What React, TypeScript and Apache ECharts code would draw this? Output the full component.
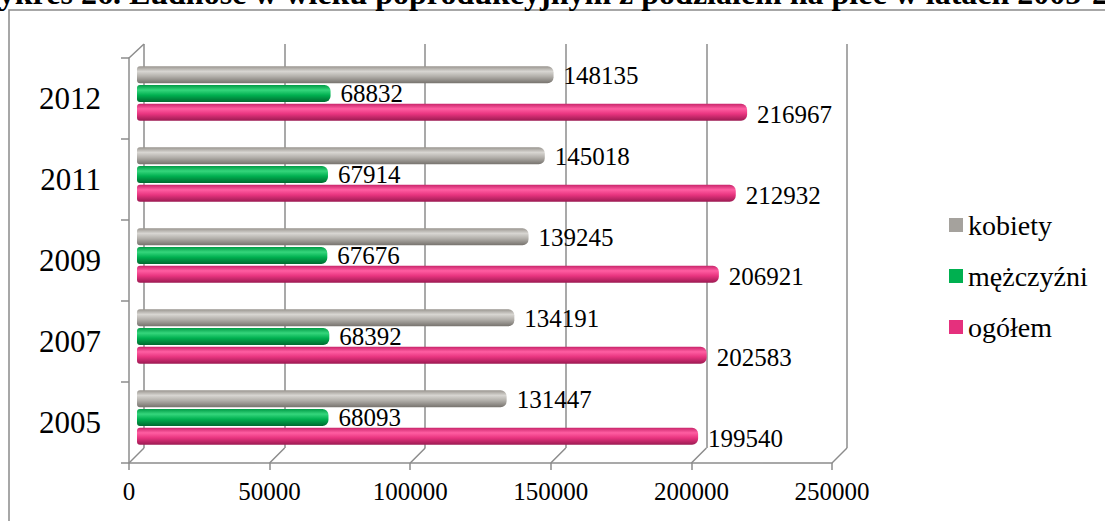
import React, { useEffect, useRef } from "react";
import * as echarts from "echarts";

const years = ["2005", "2007", "2009", "2011", "2012"];
const ogolem = [199540, 202583, 206921, 212932, 216967];
const mezczyzni = [68093, 68392, 67676, 67914, 68832];
const kobiety = [131447, 134191, 139245, 145018, 148135];
const xTicks = [0, 50000, 100000, 150000, 200000, 250000];
const legendNames = ["kobiety", "mężczyźni", "ogółem"];
const titleText = "Wykres 26. Ludność w wieku poprodukcyjnym z podziałem na płeć w latach 2005-2012";

const FONT = "'Liberation Serif', 'Times New Roman', serif";
const LINE = "#8c8c8c";

const grad = (a: string, b: string, c: string, d: string) =>
  new echarts.graphic.LinearGradient(0, 0, 0, 1, [
    { offset: 0, color: a },
    { offset: 0.3, color: b },
    { offset: 0.6, color: c },
    { offset: 1, color: d },
  ]);

export default function App() {
  const ref = useRef<HTMLDivElement>(null);
  useEffect(() => {
    if (!ref.current) return;
    const chart = echarts.init(ref.current, undefined, { renderer: "svg" });
    const labelBase = {
      show: true,
      position: "right" as const,
      distance: 10,
      fontFamily: FONT,
      fontSize: 25,
      color: "#000",
    };
    const barCommon = {
      type: "bar" as const,
      xAxisIndex: 2,
      yAxisIndex: 2,
      barWidth: 17,
      barGap: "10%",
    };
    chart.setOption({
      animation: false,
      backgroundColor: "#fff",
      graphic: [
        {
          type: "rect",
          shape: { x: 9, y: 10, width: 1300, height: 700 },
          style: { fill: "none", stroke: "#8a8a8a", lineWidth: 1.5 },
          silent: true,
        },
        {
          type: "text",
          x: -32,
          y: 9,
          style: {
            text: titleText,
            fontFamily: FONT,
            fontWeight: "bold",
            fontSize: 32,
            fill: "#000",
            verticalAlign: "bottom",
          },
        },
      ],
      legend: {
        orient: "vertical",
        left: 944,
        top: 206,
        itemWidth: 14,
        itemHeight: 14,
        itemGap: 23,
        icon: "rect",
        textStyle: { fontFamily: FONT, fontSize: 28, color: "#000" },
        data: [
          { name: legendNames[0], itemStyle: { color: "#a5a29d" } },
          { name: legendNames[1], itemStyle: { color: "#00b050" } },
          { name: legendNames[2], itemStyle: { color: "#e5307d" } },
        ],
      },
      grid: [
        { left: 129, top: 58, width: 703, height: 405 },
        { left: 144, top: 44, width: 703, height: 404 },
        { left: 137, top: 53, width: 703, height: 405 },
      ],
      xAxis: [
        {
          gridIndex: 0,
          type: "value",
          min: 0,
          max: 250000,
          interval: 50000,
          axisLine: { show: true, lineStyle: { color: LINE, width: 1.5 } },
          axisTick: { show: true, length: 7, lineStyle: { color: LINE, width: 1.5 } },
          axisLabel: {
            fontFamily: FONT,
            fontSize: 25,
            color: "#000",
            margin: 16,
            formatter: (v: number) => String(v),
          },
          splitLine: { show: false },
        },
        {
          gridIndex: 1,
          type: "value",
          min: 0,
          max: 250000,
          interval: 50000,
          axisLine: { show: false },
          axisTick: { show: false },
          axisLabel: { show: false },
          splitLine: { show: true, lineStyle: { color: LINE, width: 1.5 } },
        },
        {
          gridIndex: 2,
          type: "value",
          min: 0,
          max: 250000,
          interval: 50000,
          show: false,
          splitLine: { show: false },
        },
      ],
      yAxis: [
        {
          gridIndex: 0,
          type: "category",
          data: years,
          axisLine: { show: true, lineStyle: { color: LINE, width: 1.5 } },
          axisTick: { show: true, length: 8, lineStyle: { color: LINE, width: 1.5 } },
          axisLabel: { fontFamily: FONT, fontSize: 31, color: "#000", margin: 28 },
        },
        { gridIndex: 1, type: "category", data: years, show: false },
        { gridIndex: 2, type: "category", data: years, show: false },
      ],
      series: [
        {
          type: "custom",
          xAxisIndex: 0,
          yAxisIndex: 0,
          silent: true,
          data: xTicks.map((v) => [v, 0]),
          renderItem: (params: any, api: any) => {
            const cs = params.coordSys;
            const x = api.coord([api.value(0), 0])[0];
            const yb = cs.y + cs.height;
            const children: any[] = [
              {
                type: "line",
                shape: { x1: x, y1: yb, x2: x + 15, y2: yb - 15 },
                style: { stroke: LINE, lineWidth: 1.5 },
              },
            ];
            if (params.dataIndex === 0) {
              children.push({
                type: "line",
                shape: { x1: cs.x, y1: cs.y, x2: cs.x + 15, y2: cs.y - 14 },
                style: { stroke: LINE, lineWidth: 1.5 },
              });
            }
            return { type: "group", children };
          },
          z: 1,
        },
        {
          ...barCommon,
          name: "kobiety",
          data: kobiety,
          itemStyle: {
            color: grad("#99958f", "#d8d6d2", "#b2afaa", "#76726d"),
            borderRadius: [3, 6, 6, 3],
          },
          label: { ...labelBase, offset: [0, 1] },
          z: 3,
        },
        {
          ...barCommon,
          name: "mężczyźni",
          data: mezczyzni,
          itemStyle: {
            color: grad("#009a45", "#35d67c", "#00b050", "#00692f"),
            borderRadius: [3, 6, 6, 3],
          },
          label: { ...labelBase, offset: [0, 0] },
          z: 3,
        },
        {
          ...barCommon,
          name: "ogółem",
          data: ogolem,
          itemStyle: {
            color: grad("#c8246a", "#ff5ea2", "#e8347f", "#9c1a52"),
            borderRadius: [3, 6, 6, 3],
          },
          label: { ...labelBase, offset: [0, 2] },
          z: 3,
        },
      ],
    });
    return () => chart.dispose();
  }, []);
  return (
    <div
      ref={ref}
      style={{ position: "fixed", left: 0, top: 0, width: 1105, height: 521 }}
    />
  );
}
